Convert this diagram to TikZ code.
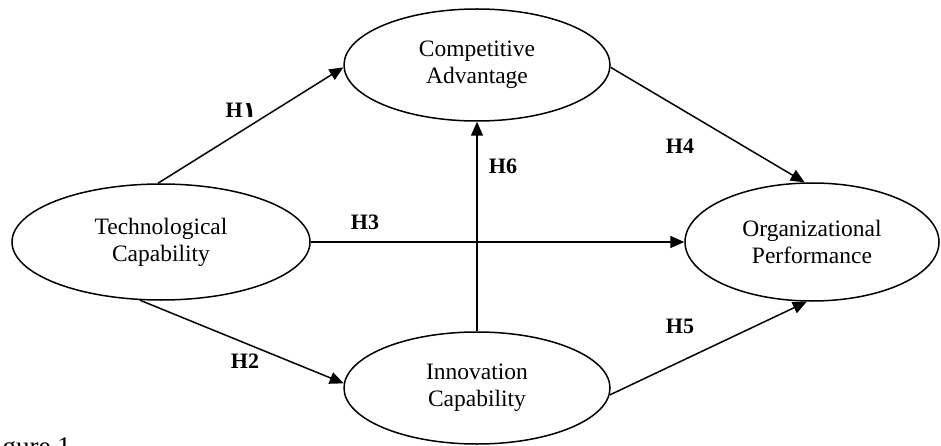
\documentclass[tikz,border=0pt]{standalone}
\usepackage{fontspec}
\setmainfont{Liberation Serif}
\newfontfamily\arabicfont[Script=Arabic]{DejaVu Sans}
\usepackage{tikz}
\usepackage{xcolor}
\usetikzlibrary{shapes.geometric, arrows.meta, positioning, calc}

\tikzset{
  construct/.style={ellipse, draw, line width=1.5pt, inner sep=0pt, align=center,
    font=\fontsize{23.5}{27}\selectfont},
  hyp/.style={-{Triangle[length=14pt, width=12pt]}, line width=1.5pt},
  hlabel/.style={font=\fontsize{22}{24}\selectfont\bfseries}
}

\begin{document}
\begin{tikzpicture}[x=1pt, y=-1pt]
\useasboundingbox (0,0) rectangle (941,446);

% Constructs
\node[construct, minimum width=298pt, minimum height=116pt] (tech) at (161,242) {Technological\\Capability};
\node[construct, minimum width=266pt, minimum height=112pt] (comp) at (477,65) {Competitive\\Advantage};
\node[construct, minimum width=266pt, minimum height=112pt] (inno) at (477,388) {Innovation\\Capability};
\node[construct, minimum width=254pt, minimum height=118pt] (org) at (812,242) {Organizational\\Performance};

% Hypothesised paths
\draw[hyp] (tech.93) -- (comp.181);
\draw[hyp] (tech.-110) -- (inno.178);
\draw[hyp] (tech.east) -- (org.west);
\draw[hyp] (comp.-1) -- (org.97);
\draw[hyp] (inno.-3) -- (org.-95);
\draw[hyp] (inno.north) -- (comp.south);

% Path labels
\node[hlabel] (h1) at (241,110) {H{\arabicfont ١}};
\node[hlabel] (h2) at (245,361) {H2};
\node[hlabel] (h3) at (365,222) {H3};
\node[hlabel] (h4) at (680,146) {H4};
\node[hlabel] (h5) at (680,326) {H5};
\node[hlabel] (h6) at (503,166) {H6};

% Caption, running off the lower left corner
\node[anchor=base east, inner sep=0pt, font=\fontsize{27}{29}\selectfont] (cap) at (71,455) {Figure 1};
\end{tikzpicture}
\end{document}
